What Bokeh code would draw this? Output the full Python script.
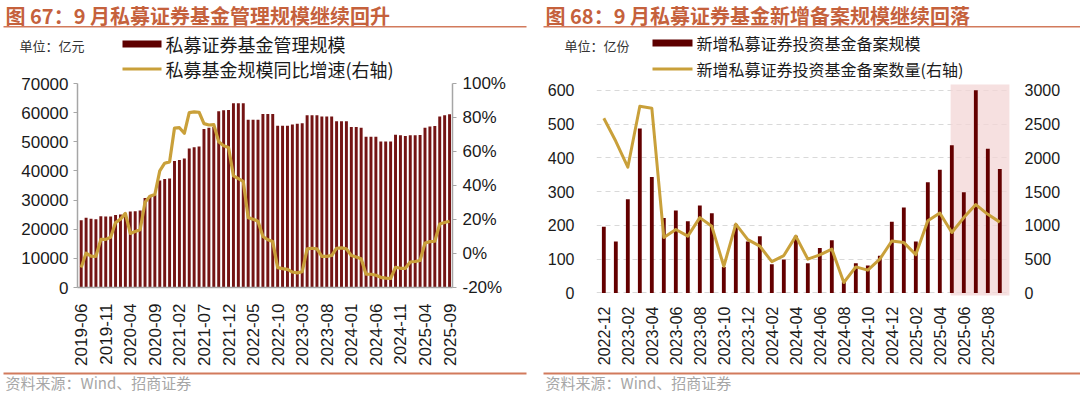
import math
from bokeh.plotting import figure
from bokeh.models import (Range1d, LinearAxis, FixedTicker, BoxAnnotation,
                          PrintfTickFormatter, ColumnDataSource)
from bokeh.layouts import row, column
from bokeh.embed import file_html
from bokeh.resources import INLINE
from bokeh.core.properties import value

# ---------------- data: panel 1 (monthly 2019-06 .. 2025-09) ----------------
aum_months = ["2019-06","2019-07","2019-08","2019-09","2019-10","2019-11","2019-12",
              "2020-01","2020-02","2020-03","2020-04","2020-05","2020-06","2020-07","2020-08","2020-09","2020-10","2020-11","2020-12",
              "2021-01","2021-02","2021-03","2021-04","2021-05","2021-06","2021-07","2021-08","2021-09","2021-10","2021-11","2021-12",
              "2022-01","2022-02","2022-03","2022-04","2022-05","2022-06","2022-07","2022-08","2022-09","2022-10","2022-11","2022-12",
              "2023-01","2023-02","2023-03","2023-04","2023-05","2023-06","2023-07","2023-08","2023-09","2023-10","2023-11","2023-12",
              "2024-01","2024-02","2024-03","2024-04","2024-05","2024-06","2024-07","2024-08","2024-09","2024-10","2024-11","2024-12",
              "2025-01","2025-02","2025-03","2025-04","2025-05","2025-06","2025-07","2025-08","2025-09"]
aum_scale = [23100, 23900, 23560, 23440, 24460, 24350, 24350, 24910, 25030, 25600,
             26050, 26160, 26390, 30690, 31480, 31820, 36690, 37260, 37370, 43380,
             43720, 44280, 47680, 48130, 48360, 54360, 54810, 55040, 60480, 60820,
             60930, 63190, 63190, 63190, 57530, 57530, 57530, 59570, 59570, 59570,
             55490, 55490, 55490, 55950, 56170, 56400, 59120, 59120, 59120, 58660,
             58660, 58660, 57080, 57080, 57080, 55040, 55040, 54810, 51760, 51760,
             51760, 50060, 50060, 50060, 52440, 52210, 51980, 52210, 52210, 52320,
             54810, 55270, 55380, 58660, 59120, 59460]
aum_yoy = [-8.3, 0.2, -1.6, -1.7, 8.3, 8.3, 9.5, 18.2, 20.2, 23.6,
           11.8, 13.0, 14.0, 30.2, 33.7, 34.7, 48.6, 53.1, 53.9, 73.8,
           74.0, 70.7, 82.9, 83.3, 83.1, 76.4, 75.6, 75.8, 65.7, 63.4,
           62.4, 45.7, 44.0, 42.4, 21.1, 20.2, 19.0, 10.0, 8.1, 7.0,
           -8.3, -8.9, -9.3, -10.9, -11.4, -10.7, 2.7, 3.1, 2.7, -1.7,
           -1.7, -1.2, 3.1, 3.3, 2.7, -1.2, -2.1, -3.1, -12.2, -12.2,
           -12.8, -14.0, -14.5, -14.7, -8.1, -8.7, -8.7, -5.0, -4.7, -4.1,
           6.2, 7.0, 7.2, 17.4, 18.2, 19.0]
aum_ticks = ["2019-06","2019-11","2020-04","2020-09","2021-02","2021-07","2021-12","2022-05",
             "2022-10","2023-03","2023-08","2024-01","2024-06","2024-11","2025-04","2025-09"]

# ---------------- data: panel 2 (monthly 2022-12 .. 2025-09) ----------------
reg_months = ["2022-12","2023-01","2023-02","2023-03","2023-04","2023-05","2023-06","2023-07",
              "2023-08","2023-09","2023-10","2023-11","2023-12","2024-01","2024-02","2024-03",
              "2024-04","2024-05","2024-06","2024-07","2024-08","2024-09","2024-10","2024-11",
              "2024-12","2025-01","2025-02","2025-03","2025-04","2025-05","2025-06","2025-07",
              "2025-08","2025-09"]
reg_scale = [196, 152, 277, 487, 343, 222, 244, 212, 259, 236, 77, 204, 152, 168, 85, 99,
             169, 88, 133, 156, 33, 88, 81, 110, 211, 253, 152, 328, 365, 437, 298, 600,
             427, 367]
reg_count = [2587, 2245, 1861, 2764, 2736, 822, 938, 841, 1115, 986, 394, 1019, 788, 692,
             462, 553, 841, 500, 562, 649, 154, 385, 337, 500, 769, 745, 567, 1067, 1183,
             894, 1115, 1308, 1163, 1048]
reg_ticks = ["2022-12","2023-02","2023-04","2023-06","2023-08","2023-10","2023-12","2024-02",
             "2024-04","2024-06","2024-08","2024-10","2024-12","2025-02","2025-04","2025-06","2025-08"]
reg_highlight = ["2025-05", "2025-09"]

# ---------------- texts ----------------
title1 = "图 67：9 月私募证券基金管理规模继续回升"
title2 = "图 68：9 月私募证券基金新增备案规模继续回落"
unit1 = "单位：亿元"
unit2 = "单位：亿份"
leg1 = ["私募证券基金管理规模", "私募基金规模同比增速(右轴)"]
leg2 = ["新增私募证券投资基金备案规模", "新增私募证券投资基金备案数量(右轴)"]
source = "资料来源：Wind、招商证券"

# ---------------- styles ----------------
CJK = "Noto Sans CJK SC"
NUM = "Liberation Sans"
TITLE_C = "#c5613c"
RULE_C = "#d27a5c"
BAR1_C = "#741414"
BAR2_C = "#640000"
SWATCH_C = "#5e0000"
LINE_C = "#c9a03a"
AX_C = "#a6a6a6"
TXT_C = "#1a1a1a"
PAGE_W, PAGE_H = 1080, 393
HEAD_H = 84          # header canvas: page y 0..84
OVERLAP = 12         # main canvases start at page y 72 (transparent border over header)
MAIN_TOP = HEAD_H - OVERLAP
FOOT_TOP = 368
FOOT_H = PAGE_H - FOOT_TOP
MAIN_H = FOOT_TOP - MAIN_TOP
PANEL_W = 540


def blank(w, h):
    f = figure(width=w, height=h, x_range=Range1d(0, w), y_range=Range1d(h, 0),
               x_axis_location=None, y_axis_location=None, toolbar_location=None,
               output_backend="svg", title=None, min_border=0)
    f.min_border_left = f.min_border_right = f.min_border_top = f.min_border_bottom = 0
    f.outline_line_color = None
    f.grid.visible = False
    f.background_fill_color = "white"
    f.border_fill_color = "white"
    return f


def txt(f, x, y, s, size, color=TXT_C, style="normal"):
    f.text(x=[x], y=[y], text=[s], text_font=value(CJK), text_font_size=value(size),
           text_color=color, text_font_style=style, text_baseline="middle", text_align="left")


def box(f, l, r, t, b, color):
    f.quad(left=[l], right=[r], top=[t], bottom=[b], fill_color=color, line_color=None)


def style_axis(a, size, line_c=AX_C, tick=True, standoff=5):
    a.axis_line_color = line_c
    a.axis_line_width = 1.5
    a.major_tick_line_color = AX_C if tick else None
    a.major_tick_out = 4
    a.major_tick_in = 0
    a.minor_tick_line_color = None
    a.major_label_standoff = standoff
    a.major_label_text_font = NUM
    a.major_label_text_font_size = size
    a.major_label_text_color = TXT_C


def base_fig(bl, br, frame_top, frame_bottom, xr, yr):
    p = figure(width=PANEL_W, height=MAIN_H, min_border_left=bl, min_border_right=br,
               min_border_top=frame_top - MAIN_TOP, min_border_bottom=FOOT_TOP - frame_bottom,
               toolbar_location=None, output_backend="svg", x_range=xr, y_range=yr,
               title=None)
    p.outline_line_color = None
    p.background_fill_color = "white"
    p.border_fill_color = None
    p.border_fill_alpha = 0
    p.xgrid.visible = False
    return p


# ================= header (titles + legends), page coordinates =================
head = blank(PAGE_W, HEAD_H)
txt(head, 5, 14.5, title1, "20px", TITLE_C, style="bold")
txt(head, 545, 14.5, title2, "20px", TITLE_C, style="bold")
box(head, 3, 526, 27, 25.5, RULE_C)
box(head, 543, 1080, 27, 25.5, RULE_C)

txt(head, 19, 45, unit1, "13px", "#333333")
box(head, 122, 161, 40, 47, SWATCH_C)
txt(head, 165, 43.5, leg1[0], "18px")
box(head, 122, 161, 67, 70, LINE_C)
txt(head, 165, 68.5, leg1[1], "18px")

txt(head, 564, 45, unit2, "13px", "#333333")
box(head, 652, 692, 39, 46, SWATCH_C)
txt(head, 696, 42.5, leg2[0], "16px")
box(head, 652, 692, 67, 70, LINE_C)
txt(head, 696, 68.5, leg2[1], "16px")

# ================= footer (source lines), local y = page y - FOOT_TOP =================
foot = blank(PAGE_W, FOOT_H)
box(foot, 3, 526, 6, 4, RULE_C)
box(foot, 543, 1080, 6, 4, RULE_C)
txt(foot, 5, 14, source, "15px", "#a6a6a6")
txt(foot, 545, 14, source, "15px", "#a6a6a6")

# ================= panel 1 =================
n1 = len(aum_months)
p1 = base_fig(77, 88, 83, 289, Range1d(-0.75, n1 - 1 + 0.6), Range1d(0, 70000))
p1.ygrid.visible = False
p1.extra_y_ranges = {"pct": Range1d(-20, 100)}
src1 = ColumnDataSource(dict(x=list(range(n1)), v=aum_scale, g=aum_yoy))
p1.vbar(x="x", top="v", width=0.6, source=src1, fill_color=BAR1_C, line_color=None)
p1.line(x="x", y="g", source=src1, y_range_name="pct", line_color=LINE_C, line_width=3.2,
        line_join="round")

ax = p1.xaxis[0]
ax.ticker = FixedTicker(ticks=[aum_months.index(t) for t in aum_ticks])
ax.major_label_overrides = {aum_months.index(t): t for t in aum_ticks}
ax.major_label_orientation = math.pi / 2
style_axis(ax, "17px", tick=False, standoff=12)

ly = p1.yaxis[0]
ly.ticker = FixedTicker(ticks=list(range(0, 70001, 10000)))
style_axis(ly, "17px", standoff=5)

ry = LinearAxis(y_range_name="pct", ticker=FixedTicker(ticks=list(range(-20, 101, 20))),
                formatter=PrintfTickFormatter(format="%d%%"))
style_axis(ry, "17px", standoff=6)
p1.add_layout(ry, "right")

# ================= panel 2 =================
n2 = len(reg_months)
p2 = base_fig(56, 70, 82, 301, Range1d(-0.61, n2 - 1 + 0.89), Range1d(-10.7, 623.2))
p2.extra_y_ranges = {"cnt": Range1d(-53.5, 3116)}
p2.ygrid.ticker = FixedTicker(ticks=list(range(0, 601, 100)))
p2.ygrid.grid_line_color = "#d9d9d9"
p2.ygrid.grid_line_dash = "5 4"
p2.ygrid.grid_line_width = 1

hl0 = reg_months.index(reg_highlight[0])
hl1 = reg_months.index(reg_highlight[1])
p2.add_layout(BoxAnnotation(left=hl0 - 0.1, right=hl1 + 0.8, bottom=-8, top=617,
                            fill_color="#f3d6d6", fill_alpha=0.75, line_color=None,
                            level="underlay"))

src2 = ColumnDataSource(dict(x=list(range(n2)), v=reg_scale, c=reg_count))
p2.vbar(x="x", top="v", width=0.32, source=src2, fill_color=BAR2_C, line_color=None)
p2.line(x="x", y="c", source=src2, y_range_name="cnt", line_color=LINE_C, line_width=3,
        line_join="round")

bx = p2.xaxis[0]
bx.ticker = FixedTicker(ticks=[reg_months.index(t) for t in reg_ticks])
bx.major_label_overrides = {reg_months.index(t): t for t in reg_ticks}
bx.major_label_orientation = math.pi / 2
style_axis(bx, "16px", line_c=None, tick=False, standoff=6)

by = p2.yaxis[0]
by.ticker = FixedTicker(ticks=list(range(0, 601, 100)))
style_axis(by, "16px", line_c=None, tick=False, standoff=18)

ry2 = LinearAxis(y_range_name="cnt", ticker=FixedTicker(ticks=list(range(0, 3001, 500))))
style_axis(ry2, "16px", line_c=None, tick=False, standoff=10)
p2.add_layout(ry2, "right")

middle = row(column(p1), column(p2), styles={"margin-top": "-%dpx" % OVERLAP})
layout = column(row(head), middle, row(foot))
open("out.html", "w").write(file_html(layout, INLINE))
